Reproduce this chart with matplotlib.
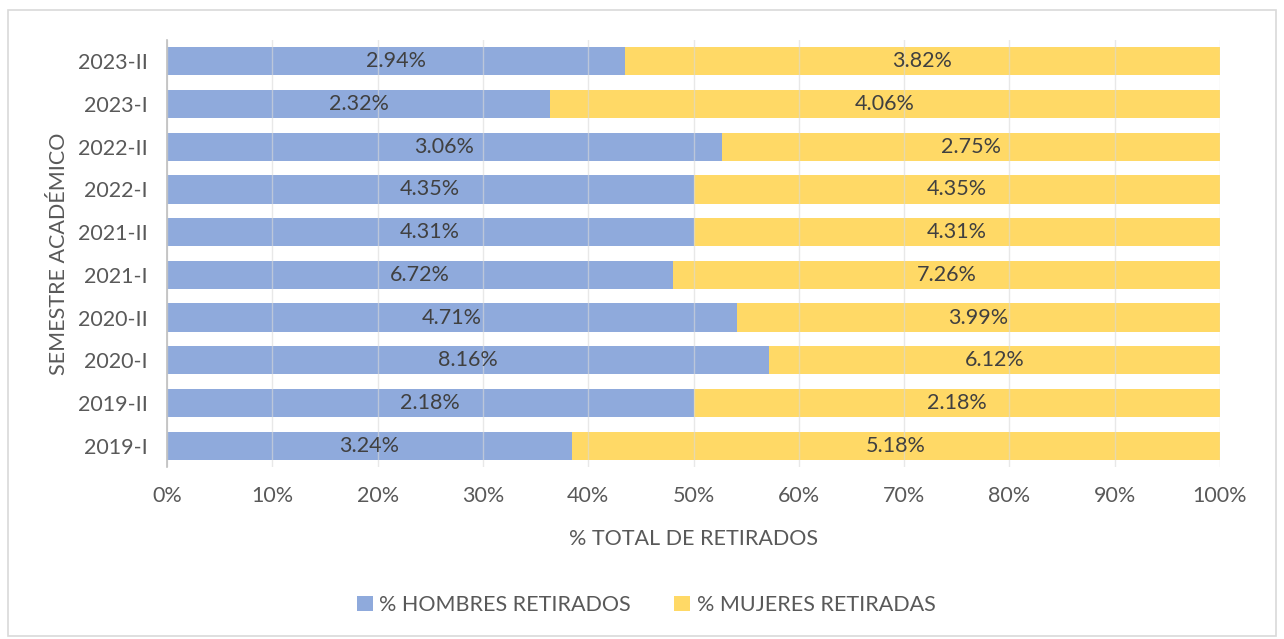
import matplotlib
matplotlib.use("Agg")
import matplotlib.pyplot as plt
from matplotlib.patches import Rectangle
import numpy as np

semestres = ["2019-I", "2019-II", "2020-I", "2020-II", "2021-I", "2021-II", "2022-I", "2022-II", "2023-I", "2023-II"]
hombres = [3.24, 2.18, 8.16, 4.71, 6.72, 4.31, 4.35, 3.06, 2.32, 2.94]
mujeres = [5.18, 2.18, 6.12, 3.99, 7.26, 4.31, 4.35, 2.75, 4.06, 3.82]
xticks = [0, 10, 20, 30, 40, 50, 60, 70, 80, 90, 100]

plt.rcParams['font.family'] = ['Lato', 'DejaVu Sans']
txt = '#595959'
blue = '#8FAADC'
yellow = '#FFD966'
fs = 15.5

fig = plt.figure(figsize=(12.84, 6.39), dpi=100)
fig.patches.append(Rectangle((8/1284, 3/639), 1268/1284, 626/639, transform=fig.transFigure,
                             fill=False, edgecolor='#D9D9D9', linewidth=1.2))
ax = fig.add_axes([167/1284, 1 - 467/639, (1220 - 167)/1284, 427/639])

h = np.array(hombres)
m = np.array(mujeres)
tot = h + m
hp = h / tot * 100
mp = m / tot * 100
y = np.arange(len(semestres))

ax.barh(y, hp, height=0.66, color=blue, label='% HOMBRES RETIRADOS', zorder=2)
ax.barh(y, mp, left=hp, height=0.66, color=yellow, label='% MUJERES RETIRADAS', zorder=2)

for i in range(len(y)):
    ax.text(hp[i] / 2, y[i], f"{hombres[i]:.2f}%", ha='center', va='center', fontsize=fs, color='#404040', zorder=4)
    ax.text(hp[i] + mp[i] / 2, y[i], f"{mujeres[i]:.2f}%", ha='center', va='center', fontsize=fs, color='#404040', zorder=4)

ax.set_xlim(0, 100)
ax.set_ylim(-0.5, len(y) - 0.5)
ax.set_xticks(xticks)
ax.set_xticklabels([f"{t}%" for t in xticks])
ax.set_yticks(y)
ax.set_yticklabels(semestres)
ax.tick_params(axis='both', length=0, labelsize=fs, colors=txt)
ax.tick_params(axis='x', pad=14)
ax.tick_params(axis='y', pad=14)
ax.grid(axis='x', color='#D9D9D9', linewidth=1, alpha=0.6, zorder=3)
ax.set_axisbelow(False)
for s in ['top', 'right', 'bottom']:
    ax.spines[s].set_visible(False)
ax.spines['left'].set_color('#BFBFBF')
ax.spines['left'].set_linewidth(1.2)
ax.spines['left'].set_zorder(5)

ax.set_xlabel('% TOTAL DE RETIRADOS', fontsize=fs, color=txt, labelpad=16)
ax.set_ylabel('SEMESTRE ACADÉMICO', fontsize=fs, color=txt, labelpad=6)

leg = fig.legend(loc='center', bbox_to_anchor=(646/1284, 1 - 605/639), ncol=2, frameon=False,
                 fontsize=fs, handlelength=0.75, handleheight=0.75, handletextpad=0.3, columnspacing=2.0)
for t in leg.get_texts():
    t.set_color(txt)

fig.savefig('out.png', dpi=100)
